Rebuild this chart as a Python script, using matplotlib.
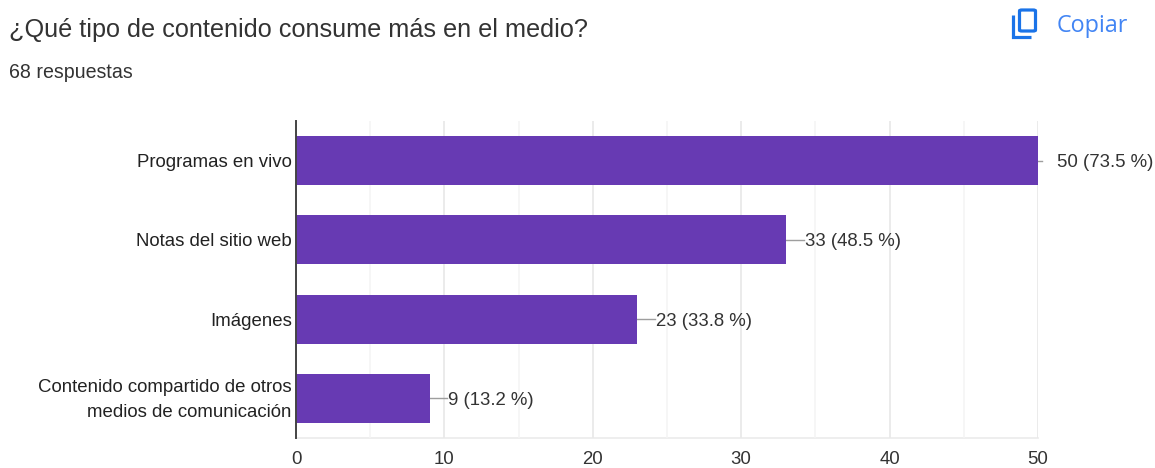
import matplotlib.pyplot as plt
from matplotlib.patches import FancyBboxPatch, Polygon
from matplotlib.transforms import ScaledTranslation

plt.rcParams['font.family'] = ['Liberation Sans', 'DejaVu Sans']

categorias = ['Programas en vivo', 'Notas del sitio web', 'Imágenes',
              'Contenido compartido de otros\nmedios de comunicación']
valores = [50, 33, 23, 9]
porcentajes = ['73.5', '48.5', '33.8', '13.2']
ticks = [0, 10, 20, 30, 40, 50]
ticks_menores = [5, 15, 25, 35, 45]

W, H = 1155, 468
fig = plt.figure(figsize=(W / 100, H / 100), dpi=100)
fig.patch.set_facecolor('white')

# area do grafico em pixels: x 296-1038, y 121-438
ax = fig.add_axes([296 / W, 1 - 438 / H, (1038 - 296) / W, (438 - 121) / H])
for spine in ax.spines.values():
    spine.set_visible(False)

pos = list(range(len(categorias)))
ax.barh(pos, valores, height=0.62, color='#673AB3', zorder=3)

ax.set_xlim(0, 50)
ax.set_ylim(3.5, -0.5)
ax.set_xticks(ticks)
ax.set_xticks(ticks_menores, minor=True)
ax.grid(axis='x', which='major', color='#E9E9E9', linewidth=1.3, zorder=0)
ax.grid(axis='x', which='minor', color='#F4F4F4', linewidth=1.1, zorder=0)
ax.tick_params(axis='both', which='both', length=0)
ax.tick_params(axis='x', pad=9.5, labelsize=13.4, labelcolor='#333333')
ax.set_yticks(pos)
ax.set_yticklabels(categorias, fontsize=13.4, color='#222222', linespacing=1.62,
                   va='center_baseline')
ax.tick_params(axis='y', pad=3)

# rotulo de duas linhas sobe um pouco
lab = ax.get_yticklabels()[-1]
lab.set_transform(lab.get_transform() + ScaledTranslation(0, 4 / 100, fig.dpi_scale_trans))

# linha de base e linha inferior
ax.plot([0, 0], [-0.5, 3.5], color='#444444', linewidth=1.4, zorder=5, clip_on=False)
ax.plot([0, 50], [3.5, 3.5], color='#EDEDED', linewidth=1.3, zorder=1, clip_on=False)

# rotulos com linha guia
for i, (v, p) in enumerate(zip(valores, porcentajes)):
    dx = 1.2 if v < 50 else 0.25
    ax.plot([v, v + dx], [i, i], color='#9E9E9E', linewidth=1, zorder=2, clip_on=False)
    ax.text(v + 1.27, i, f'{v} ({p} %)', ha='left', va='center_baseline',
            fontsize=13.4, color='#333333', clip_on=False)

fig.text(9 / W, 1 - 29.5 / H, '¿Qué tipo de contenido consume más en el medio?',
         fontsize=18.2, color='#333333', va='center', ha='left')
fig.text(9 / W, 1 - 72 / H, '68 respuestas', fontsize=14.1, color='#333333',
         va='center', ha='left')
fig.text(1057 / W, 1 - 26.5 / H, 'Copiar', fontsize=16.8, color='#4285F4', va='center',
         ha='left', family=['Open Sans', 'DejaVu Sans'])

# icone de copiar
azul = '#1A73E8'
fx, fy = 1 / W, 1 / H
fig.add_artist(FancyBboxPatch((1019.5 * fx, 1 - 31 * fy), 16 * fx, 21 * fy,
                              boxstyle='round,pad=0,rounding_size=0.002',
                              transform=fig.transFigure, fill=False,
                              edgecolor=azul, linewidth=2.3))
fig.add_artist(Polygon([(1013 * fx, 1 - 15 * fy), (1013 * fx, 1 - 37 * fy),
                        (1031 * fx, 1 - 37 * fy)], closed=False, fill=False,
                       transform=fig.transFigure, edgecolor=azul, linewidth=2.3))

plt.savefig('out.png', dpi=100)
plt.close()
